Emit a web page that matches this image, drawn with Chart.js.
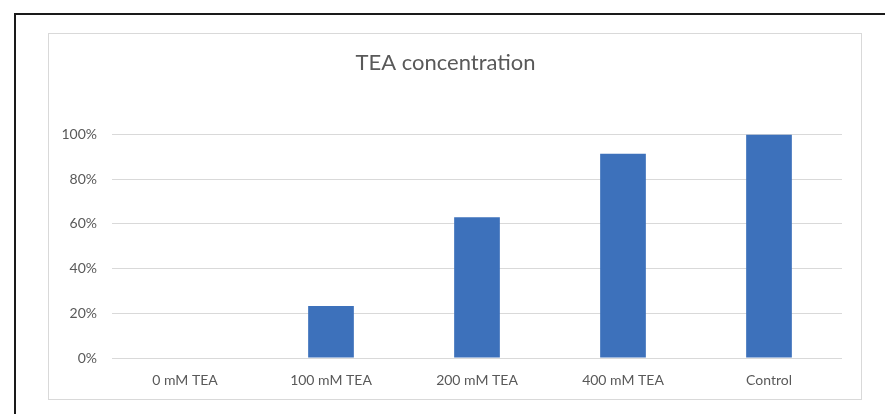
<!DOCTYPE html>
<html>
<head>
<meta charset="utf-8">
<script src="https://cdn.jsdelivr.net/npm/chart.js@4.4.0/dist/chart.umd.min.js"></script>
<style>
  html, body { margin: 0; padding: 0; background: #fff; }
  #wrap { position: relative; width: 885px; height: 414px; }
</style>
</head>
<body>
<div id="wrap"><canvas id="c" width="885" height="414"></canvas></div>
<script>
// Relative activity by TEA concentration
const categories = ['0 mM TEA', '100 mM TEA', '200 mM TEA', '400 mM TEA', 'Control'];
const values = [0, 23.2, 62.9, 91.4, 100];
const yTicks = [0, 20, 40, 60, 80, 100];

const FONT = 'Lato, "Open Sans", sans-serif';

// Frames: outer dark frame and light chart-box outline
const framePlugin = {
  id: 'frames',
  beforeDraw(chart) {
    const ctx = chart.ctx;
    ctx.save();
    ctx.fillStyle = '#fff';
    ctx.fillRect(0, 0, chart.width, chart.height);
    ctx.strokeStyle = '#1a1a1a';
    ctx.lineWidth = 2;
    ctx.beginPath();
    ctx.moveTo(15, chart.height + 2);
    ctx.lineTo(15, 14);
    ctx.lineTo(chart.width + 2, 14);
    ctx.stroke();
    ctx.strokeStyle = '#d9d9d9';
    ctx.lineWidth = 1;
    ctx.strokeRect(48.5, 33.5, 813, 366);
    ctx.restore();
  }
};

new Chart(document.getElementById('c'), {
  type: 'bar',
  data: {
    labels: categories,
    datasets: [{
      data: values,
      backgroundColor: '#3D71BB',
      borderWidth: 0,
      categoryPercentage: 1,
      barPercentage: 0.313
    }]
  },
  options: {
    responsive: false,
    animation: false,
    layout: { padding: { left: 49, right: 43, top: 33, bottom: 15 } },
    plugins: {
      legend: { display: false },
      tooltip: { enabled: false },
      title: {
        display: true,
        text: 'TEA concentration',
        color: '#595959',
        font: { family: FONT, size: 22, weight: 'normal' },
        padding: { top: 17, bottom: 58 }
      }
    },
    scales: {
      x: {
        grid: { display: false },
        border: { display: false },
        ticks: {
          color: '#595959',
          font: { family: FONT, size: 14 },
          padding: 6,
          maxRotation: 0
        },
        afterFit(s) { s.height = 41; }
      },
      y: {
        min: 0,
        max: 100,
        afterBuildTicks(s) { s.ticks = yTicks.map(v => ({ value: v })); },
        grid: { color: '#d9d9d9', lineWidth: 1, drawTicks: false },
        border: { display: false },
        ticks: {
          color: '#595959',
          font: { family: FONT, size: 14 },
          padding: 15,
          callback: v => v + '%'
        },
        afterFit(s) { s.width = 63; }
      }
    }
  },
  plugins: [framePlugin]
});
</script>
</body>
</html>
